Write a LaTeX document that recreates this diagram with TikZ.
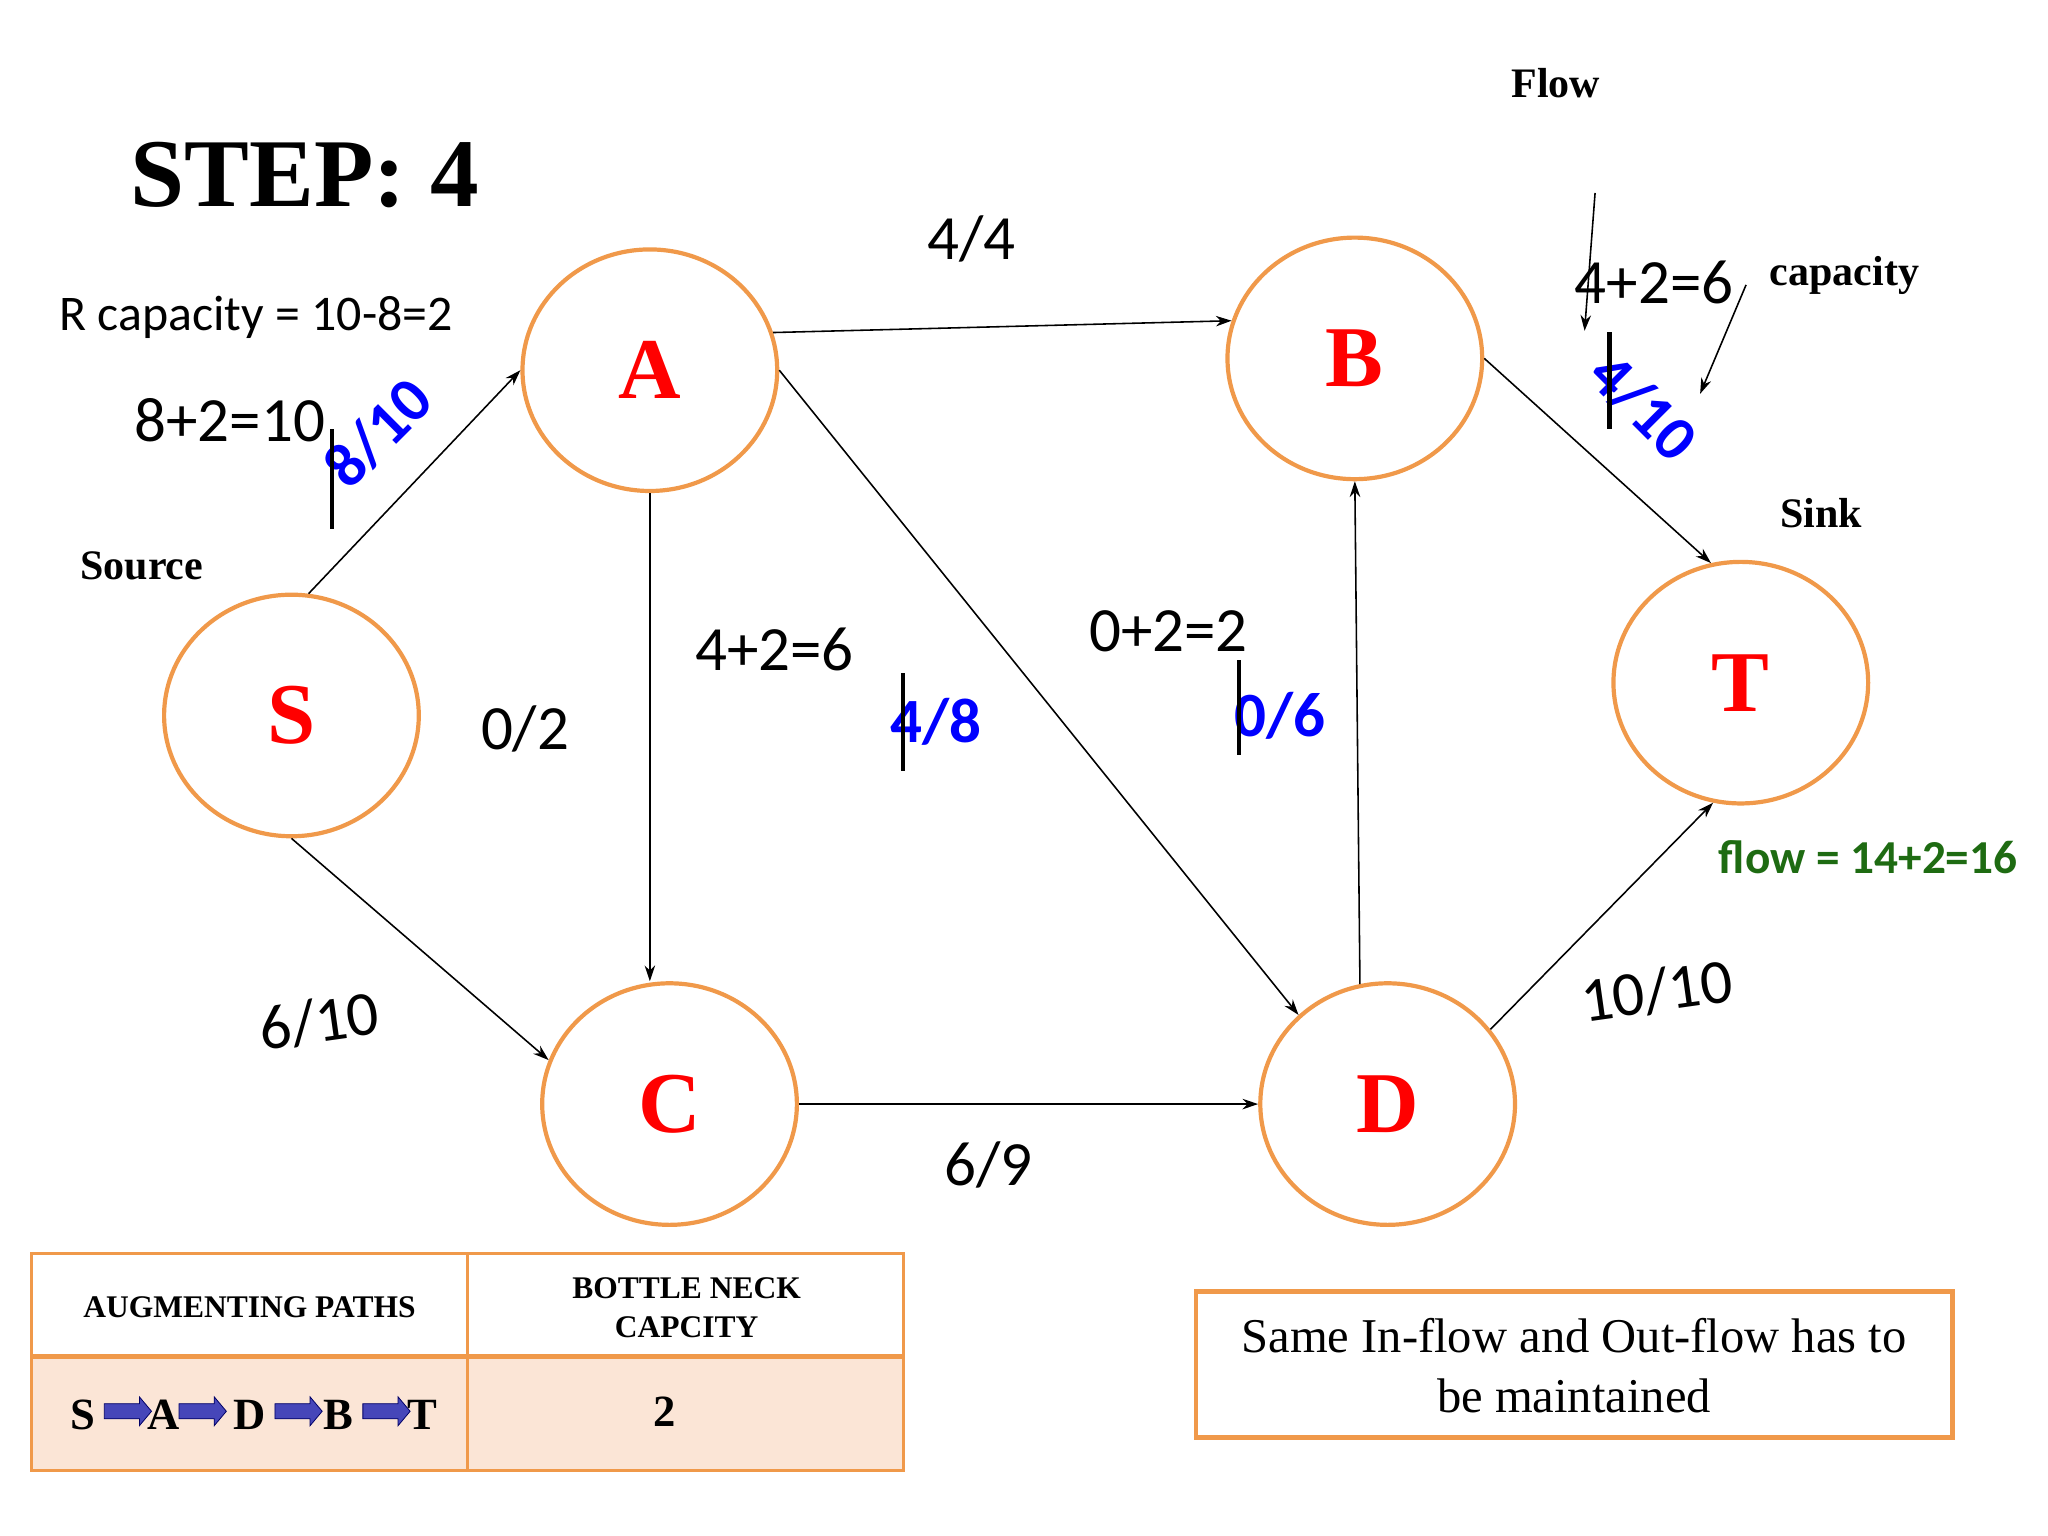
\documentclass[tikz,border=0pt]{standalone}
\usepackage{fontspec}
\setmainfont{Liberation Serif}
\newfontfamily\carl{Carlito}
\usetikzlibrary{shapes.geometric,shapes.arrows,arrows.meta}
\definecolor{org}{HTML}{F0994A}
\definecolor{peach}{HTML}{FBE5D6}
\definecolor{grn}{HTML}{1E6B12}
\begin{document}
\begin{tikzpicture}[x=0.5pt,y=-0.5pt,
 vtx/.style={ellipse,draw=org,line width=1.6pt,minimum width=97pt,minimum height=92pt,inner sep=0pt,text=red,font=\bfseries\fontsize{33}{33}\selectfont},
 e/.style={-{Stealth[length=6pt,width=4pt]},line width=0.6pt},
 lab/.style={font=\carl\fontsize{24}{24}\selectfont},
 blu/.style={text=blue,font=\carl\bfseries\fontsize{24}{24}\selectfont},
 bar/.style={line width=1.6pt},
 ser/.style={font=\bfseries\fontsize{16}{16}\selectfont},
 ar/.style={single arrow,fill=blue!45!gray,draw=blue!40!black,line width=0.3pt,minimum height=18pt,minimum width=11pt,single arrow head extend=1.5pt,single arrow tip angle=100,inner sep=1.5pt}]
\useasboundingbox (0,0) rectangle (1560,1170);
\node[vtx] (S) at (222,545) {S};
\node[vtx] (A) at (495,282) {A};
\node[vtx] (B) at (1032,273) {B};
\node[vtx] (T) at (1326,520) {T};
\node[vtx] (C) at (510,841) {C};
\node[vtx] (D) at (1057,841) {D};
\draw[e] (S.82) -- (A.180);
\draw[e] (S.-90) -- (C.160);
\draw[e] (A.17) -- (B.163);
\draw[e] (A.-90) -- (A.-90 |- C.north);
\draw[e] (A.0) -- (D.135);
\draw[e] (D.103) -- (B.-90);
\draw[e] (B.0) -- (T.104);
\draw[e] (C.0) -- (D.180);
\draw[e] (D.36) -- (T.-103);
\node[font=\bfseries\fontsize{37}{37}\selectfont] (st) at (232,133) {STEP: 4};
\node[font=\carl\fontsize{19}{19}\selectfont] (rc) at (195,242) {R capacity = 10-8=2};
\node[lab] (l1) at (175,320) {8+2=10};
\node[blu,rotate=45] (l2) at (288,330) {8/10};
\coordinate (b1a) at (253,327); \coordinate (b1b) at (253,403);
\draw[bar] (b1a) -- (b1b);
\node[ser] (src) at (108,431) {Source};
\node[lab] (l3) at (740,182) {4/4};
\node[lab] (l4) at (400,555) {0/2};
\node[lab] (l5) at (590,495) {4+2=6};
\node[blu] (l6) at (713,550) {4/8};
\coordinate (b2a) at (688,513); \coordinate (b2b) at (688,587);
\draw[bar] (b2a) -- (b2b);
\node[lab] (l7) at (890,481) {0+2=2};
\node[blu] (l8) at (975,545) {0/6};
\coordinate (b3a) at (944,503); \coordinate (b3b) at (944,575);
\draw[bar] (b3a) -- (b3b);
\node[ser] (flw) at (1185,63) {Flow};
\coordinate (f1) at (1215,147); \coordinate (f2) at (1207,252);
\draw[e] (f1) -- (f2);
\node[lab] (l9) at (1260,215) {4+2=6};
\node[ser] (cap) at (1405,210) {capacity};
\coordinate (c1) at (1330,217); \coordinate (c2) at (1295,300);
\draw[e] (c1) -- (c2);
\node[blu,rotate=-45] (l10) at (1252,310) {4/10};
\coordinate (b4a) at (1226,253); \coordinate (b4b) at (1226,327);
\draw[bar] (b4a) -- (b4b);
\node[ser] (snk) at (1387,391) {Sink};
\node[text=grn,font=\carl\bfseries\fontsize{18}{18}\selectfont] (fl) at (1423,653) {flow = 14+2=16};
\node[lab,rotate=8] (l11) at (1262,755) {10/10};
\node[lab,rotate=8] (l12) at (243,778) {6/10};
\node[lab] (l13) at (753,887) {6/9};
% table
\fill[peach] (24,1033) rectangle (688,1120);
\draw[org,line width=1.2pt] (24,955) rectangle (688,1120) (356,955) -- (356,1120);
\draw[org,line width=2pt] (24,1033) -- (688,1033);
\node[font=\bfseries\fontsize{12}{12}\selectfont] (h1) at (190,996) {AUGMENTING PATHS};
\node[font=\bfseries\fontsize{12}{15}\selectfont,align=center] (h2) at (523,996) {BOTTLE NECK\\CAPCITY};
\begin{scope}[every node/.append style={font=\bfseries\fontsize{17}{17}\selectfont}]
\node (p1) at (63,1078) {S};
\node[ar] (a1) at (95,1075) {};
\node (p2) at (125,1078) {A};
\node[ar] (a2) at (152,1075) {};
\node (p3) at (190,1078) {D};
\node[ar] (a3) at (225,1075) {};
\node (p4) at (258,1078) {B};
\node[ar] (a4) at (292,1075) {};
\node (p5) at (322,1078) {T};
\node (two) at (506,1075) {2};
\end{scope}
\draw[org,line width=1.8pt] (911,984) rectangle (1487,1095);
\node[align=center,font=\fontsize{18.5}{23}\selectfont] (note) at (1199,1040) {Same In-flow and Out-flow has to\\be maintained};
\end{tikzpicture}
\end{document}
